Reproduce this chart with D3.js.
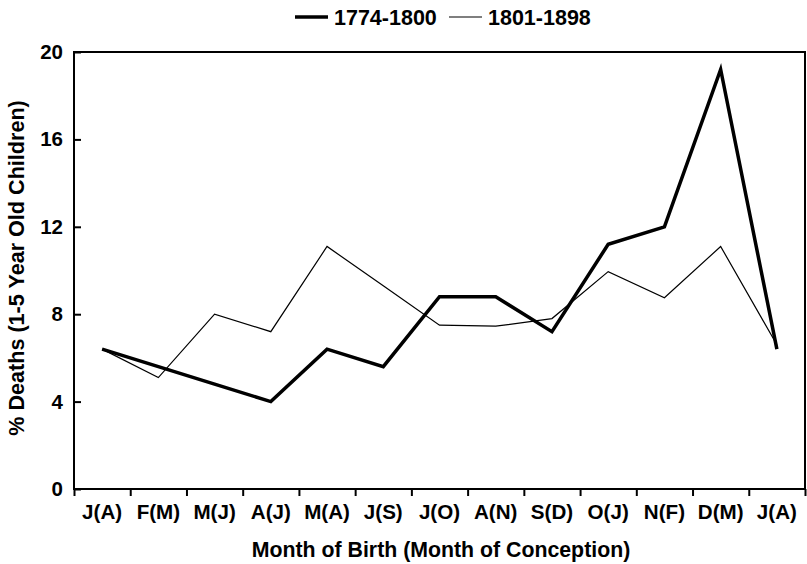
<!DOCTYPE html>
<html>
<head>
<meta charset="utf-8">
<script src="https://cdn.jsdelivr.net/npm/d3@7"></script>
<style>
  body { margin: 0; background: #fff; }
  svg { display: block; font-family: "Liberation Sans", Arial, sans-serif; font-weight: bold; }
</style>
</head>
<body>
<div id="chart"></div>
<script>
const months = ["J(A)", "F(M)", "M(J)", "A(J)", "M(A)", "J(S)", "J(O)", "A(N)", "S(D)", "O(J)", "N(F)", "D(M)", "J(A)"];
const early = [6.4, 5.6, 4.8, 4.0, 6.4, 5.6, 8.8, 8.8, 7.2, 11.2, 12.0, 19.2, 6.4];
const late = [6.4, 5.1, 8.0, 7.2, 11.1, 9.3, 7.5, 7.45, 7.8, 9.95, 8.75, 11.1, 6.6];
const yTicks = [0, 4, 8, 12, 16, 20];

const width = 807, height = 564;
const margin = { top: 52, right: 2, bottom: 75, left: 74 };

const svg = d3.select("#chart").append("svg")
    .attr("width", width)
    .attr("height", height);

const x = d3.scaleBand()
    .domain(d3.range(months.length))
    .range([margin.left, width - margin.right]);

const xEdge = d3.scaleLinear()
    .domain([0, months.length])
    .range([margin.left, width - margin.right]);

const y = d3.scaleLinear()
    .domain([0, 20])
    .range([height - margin.bottom, margin.top]);

// bottom ticks sit between months
svg.append("g")
    .attr("transform", `translate(0,${height - margin.bottom})`)
    .call(d3.axisBottom(xEdge).tickValues(d3.range(0, months.length + 1)).tickSize(7).tickFormat(""))
    .call(g => g.select(".domain").remove())
    .call(g => g.selectAll("line").attr("stroke-width", 2));

svg.append("g")
    .attr("transform", `translate(0,${height - margin.bottom})`)
    .call(d3.axisBottom(x).tickSize(0).tickPadding(15).tickFormat(i => months[i]))
    .call(g => g.select(".domain").remove())
    .call(g => g.selectAll("text")
        .attr("fill", "#000")
        .style("font-size", "20.6px")
        .style("font-family", "Liberation Sans, Arial, sans-serif")
        .style("font-weight", "bold"));

svg.append("g")
    .attr("transform", `translate(${margin.left},0)`)
    .call(d3.axisLeft(y).tickValues(yTicks).tickSizeInner(-7).tickSizeOuter(0).tickPadding(11))
    .call(g => g.select(".domain").remove())
    .call(g => g.selectAll("line").attr("stroke-width", 2))
    .call(g => g.selectAll("text")
        .attr("fill", "#000")
        .style("font-size", "20.5px")
        .style("font-family", "Liberation Sans, Arial, sans-serif")
        .style("font-weight", "bold"));

// frame
svg.append("rect")
    .attr("x", margin.left)
    .attr("y", margin.top)
    .attr("width", width - margin.right - margin.left)
    .attr("height", height - margin.bottom - margin.top)
    .attr("fill", "none")
    .attr("stroke", "#000")
    .attr("stroke-width", 2);

const line = d3.line()
    .x((d, i) => x(i) + x.bandwidth() / 2)
    .y(d => y(d));

svg.append("path")
    .datum(late)
    .attr("d", line)
    .attr("fill", "none")
    .attr("stroke", "#000")
    .attr("stroke-width", 1.2);

svg.append("path")
    .datum(early)
    .attr("d", line)
    .attr("fill", "none")
    .attr("stroke", "#000")
    .attr("stroke-width", 3.5);

// legend
const legend = [
    { name: "1774-1800", w: 3.5, x: 295 },
    { name: "1801-1898", w: 1.2, x: 449 }
];
const lg = svg.selectAll(".legend-item")
    .data(legend)
    .enter().append("g")
    .attr("class", "legend-item")
    .attr("transform", d => `translate(${d.x},17)`);

lg.append("line")
    .attr("x1", 0).attr("x2", 33)
    .attr("stroke", "#000")
    .attr("stroke-width", d => d.w);

lg.append("text")
    .attr("x", 39)
    .attr("dy", "0.35em")
    .style("font-size", "21.5px")
    .text(d => d.name);

// axis titles
svg.append("text")
    .attr("x", 441)
    .attr("y", 557)
    .attr("text-anchor", "middle")
    .style("font-size", "21.3px")
    .text("Month of Birth (Month of Conception)");

svg.append("text")
    .attr("transform", `translate(24,268) rotate(-90)`)
    .attr("text-anchor", "middle")
    .style("font-size", "21.6px")
    .text("% Deaths (1-5 Year Old Children)");
</script>
</body>
</html>
